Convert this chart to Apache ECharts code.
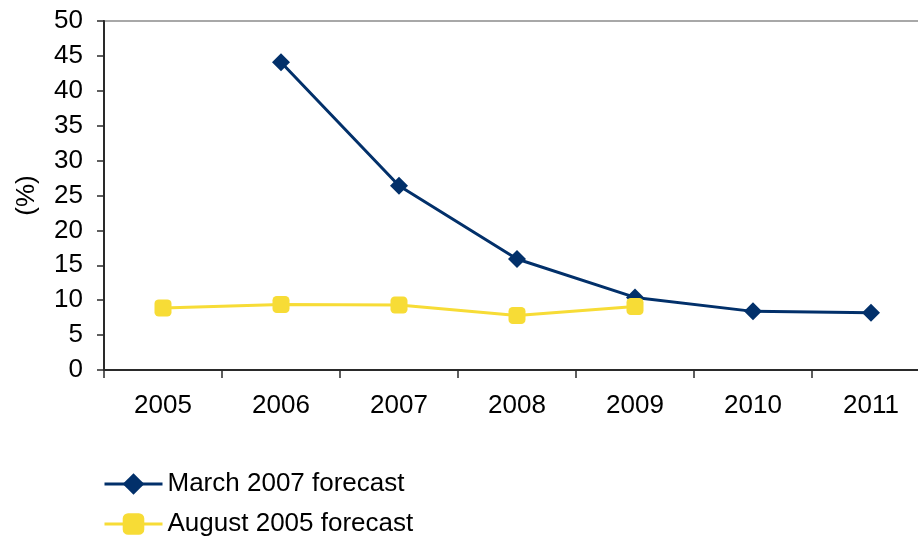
<!DOCTYPE html>
<html>
<head>
<meta charset="utf-8">
<script src="https://cdn.jsdelivr.net/npm/echarts@6/dist/echarts.min.js"></script>
<style>
  html, body { margin: 0; padding: 0; background: #fff; }
  #chart { width: 918px; height: 540px; }
</style>
</head>
<body>
<div id="chart"></div>
<script>
// Years on the category axis
const years = ['2005', '2006', '2007', '2008', '2009', '2010', '2011'];
// Forecast values, in percent
const march2007 = [null, 44.1, 26.4, 15.9, 10.4, 8.4, 8.2];
const august2005 = [8.9, 9.4, 9.3, 7.8, 9.1, null, null];
// Value axis range
const yMin = 0, yMax = 50, yStep = 5;

const navy = '#02306A';
const yellow = '#F7DC36';
const font = 'Liberation Sans, Arial, sans-serif';
const diamond = 'path://M0,-1 L1,0 L0,1 L-1,0 Z';

const chart = echarts.init(document.getElementById('chart'));
chart.setOption({
  animation: false,
  backgroundColor: '#fff',
  grid: {
    left: 104, top: 21, width: 826, height: 349,
    outerBoundsMode: 'none',
    containLabel: false,
    show: true, borderColor: '#8c8c8c', borderWidth: 1.5
  },
  xAxis: {
    type: 'category',
    data: years,
    boundaryGap: true,
    axisLine: { lineStyle: { color: '#2a2a2a', width: 2 } },
    axisTick: { show: true, length: 8, lineStyle: { color: '#2a2a2a', width: 1.5 } },
    axisLabel: { color: '#000', fontFamily: font, fontSize: 26, margin: 23 },
    splitLine: { show: false }
  },
  yAxis: {
    type: 'value',
    min: yMin, max: yMax, interval: yStep,
    name: '(%)',
    nameLocation: 'middle',
    nameGap: 64,
    nameRotate: 90,
    nameTextStyle: { color: '#000', fontFamily: font, fontSize: 26 },
    axisLine: { show: true, lineStyle: { color: '#2a2a2a', width: 2 } },
    axisTick: { show: true, length: 7, lineStyle: { color: '#2a2a2a', width: 1.5 } },
    axisLabel: { color: '#000', fontFamily: font, fontSize: 26, margin: 21 },
    splitLine: { show: false }
  },
  legend: {
    orient: 'vertical',
    left: 103,
    top: 471,
    padding: 0,
    itemWidth: 58,
    itemHeight: 27,
    itemGap: 14,
    lineStyle: { width: 3 },
    textStyle: { color: '#000', fontFamily: font, fontSize: 26, lineHeight: 26 },
    data: ['March 2007 forecast', 'August 2005 forecast']
  },
  series: [
    {
      name: 'March 2007 forecast',
      type: 'line',
      data: march2007,
      symbol: diamond,
      symbolSize: 18,
      showAllSymbol: true,
      lineStyle: { color: navy, width: 3 },
      itemStyle: { color: navy }
    },
    {
      name: 'August 2005 forecast',
      type: 'line',
      data: august2005,
      symbol: 'roundRect',
      symbolSize: 17,
      showAllSymbol: true,
      lineStyle: { color: yellow, width: 3 },
      itemStyle: { color: yellow }
    }
  ]
});
</script>
</body>
</html>
